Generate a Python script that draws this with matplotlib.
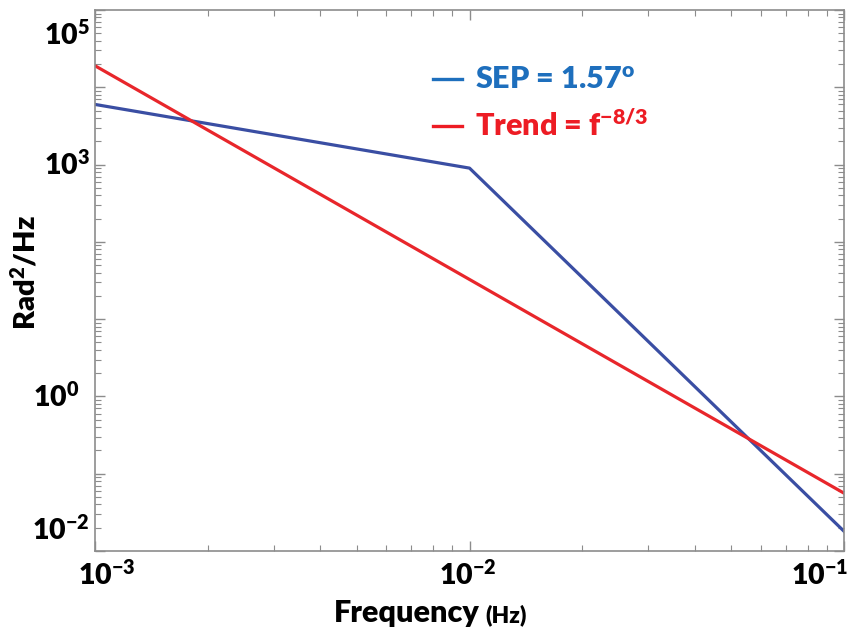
import matplotlib
matplotlib.use("Agg")
import matplotlib.pyplot as plt
from matplotlib.lines import Line2D
from matplotlib.ticker import LogLocator, NullFormatter

plt.rcParams.update({
    "font.family": ["Lato", "DejaVu Sans"],
    "font.weight": "heavy",
    "mathtext.fontset": "custom",
    "mathtext.rm": "Lato:heavy",
    "mathtext.it": "Lato:heavy",
    "mathtext.bf": "Lato:heavy",
    "mathtext.default": "rm",
})

# ── data ─────────────────────────────────────────────────────────────────────
sep_freq = [1e-3, 1e-2, 1e-1]
sep_psd = [6.0e3, 9.0e2, 1.8e-2]
trend_freq = [1e-3, 1e-1]
trend_psd = [1.9e4, 5.6e-2]

xtick_text = [r"$10^{-3}$", r"$10^{-2}$", r"$10^{-1}$"]
ytick_text = [r"$10^{5}$", r"$10^{3}$", r"$10^{0}$", r"$10^{-2}$"]
legend_text = [r"SEP = 1.57$^{o}$", r"Trend = f$^{-8/3}$"]

BLUE_LINE = "#3a4ea3"
RED_LINE = "#e8262b"
BLUE_TEXT = "#1e6fbd"
RED_TEXT = "#ed1c24"
AXIS = "#8c8c8c"

W, H = 850, 629
fig = plt.figure(figsize=(W / 100, H / 100), dpi=100)
ax = fig.add_axes([95 / W, 78 / H, 749 / W, 541 / H])

ax.loglog(sep_freq, sep_psd, color=BLUE_LINE, lw=2.3)
ax.loglog(trend_freq, trend_psd, color=RED_LINE, lw=2.3)

ax.set_xlim(1e-3, 1e-1)
ax.set_ylim(1e-2, 1e5)

for a in (ax.xaxis, ax.yaxis):
    a.set_major_locator(LogLocator(base=10, numticks=20))
    a.set_minor_locator(LogLocator(base=10, subs=range(2, 10), numticks=20))
    a.set_major_formatter(NullFormatter())
    a.set_minor_formatter(NullFormatter())
ax.tick_params(which="both", direction="in", top=True, right=True, color=AXIS)
ax.tick_params(which="major", length=7, width=1)
ax.tick_params(which="minor", length=4, width=0.8)
for s in ax.spines.values():
    s.set_color(AXIS)
    s.set_linewidth(1.2)


def px(x, y):
    return x / W, 1 - y / H


# tick labels (placed as in the reference)
for txt, (x, y) in zip(xtick_text, [(107, 575), (468, 575), (820, 575)]):
    fig.text(*px(x, y), txt, ha="center", va="center", fontsize=20.5)
for txt, (x, y) in zip(ytick_text, [(90, 35), (90, 165), (79, 397), (90, 530)]):
    fig.text(*px(x, y), txt, ha="right", va="center", fontsize=20.5)

# axis labels
fig.text(*px(480, 622), "Frequency", ha="right", va="baseline", fontsize=22)
fig.text(*px(485, 622), "(Hz)", ha="left", va="baseline", fontsize=16.5)
fig.text(*px(25, 273), r"Rad$^{2}$/Hz", ha="center", va="center",
         fontsize=21, rotation=90)

# legend: short coloured dash + text
for txt, col, y in zip(legend_text, [BLUE_TEXT, RED_TEXT], [89, 136]):
    x0, yy = px(433, y - 10)
    x1, _ = px(462, y - 10)
    fig.add_artist(Line2D([x0, x1], [yy, yy], color=col, lw=2.4,
                          transform=fig.transFigure))
    fig.text(*px(475, y), txt, ha="left", va="baseline", fontsize=22,
             color=col)

fig.savefig("out.png", dpi=100, facecolor="white")
